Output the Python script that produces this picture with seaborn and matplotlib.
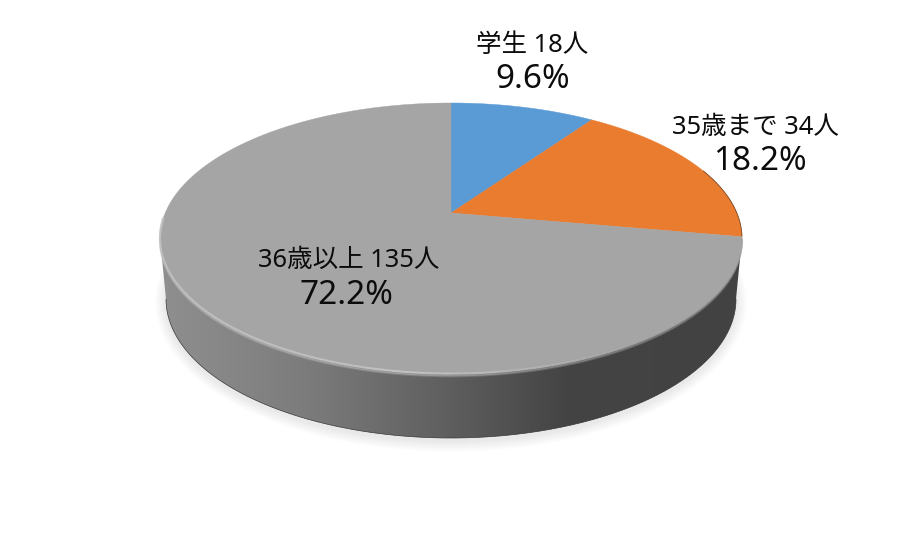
import numpy as np
import seaborn as sns
from matplotlib import pyplot as plt
from matplotlib.collections import LineCollection
from matplotlib.colors import LinearSegmentedColormap, to_rgb
from matplotlib.patches import Polygon

# Survey data
categories = ["学生", "35歳まで", "36歳以上"]
counts = [18, 34, 135]
percent_labels = ["9.6%", "18.2%", "72.2%"]
slice_colors = ["#5B9BD5", "#EA7C30", "#A5A5A5"]

sns.set_theme(style="white")
plt.rcParams["font.family"] = ["Noto Sans", "Noto Sans CJK JP", "DejaVu Sans"]
palette = sns.color_palette(slice_colors)

# Pie geometry in pixels, the top face is a circle seen in perspective
apex_x, apex_y = 451, 213
radius_x, radius_y, persp = 285.8, 130.7, 0.188


def top_face(theta):
    # theta in radians, clockwise from 12 o'clock
    den = 1 + persp * np.cos(theta)
    return (apex_x + radius_x * np.sin(theta) / den,
            apex_y - radius_y * np.cos(theta) / den)


def lower_edge(t, grow=0.0, shift=0.0):
    return (451 + (285 + grow) * np.cos(t),
            299 + shift + (139 + grow) * np.sin(t))


fig, ax = plt.subplots(figsize=(9, 5.5), dpi=100)
fig.subplots_adjust(0, 0, 1, 1)

# Soft shadow under the side wall
t = np.linspace(0, 2 * np.pi, 400)
for grow in range(11, 0, -1):
    sx, sy = lower_edge(t, grow=grow, shift=3)
    ax.fill(sx, sy, color="black", alpha=0.009, lw=0, zorder=1)

# Side wall with horizontal gradient
t_front = np.linspace(0, np.pi, 300)
wx, wy = lower_edge(t_front)
wall_pts = np.column_stack([
    np.r_[742, wx, 160],
    np.r_[238, wy, 238],
])
wall_cmap = LinearSegmentedColormap.from_list(
    "wall",
    [(0.0, "#8f8f8f"), (0.25, "#7c7c7c"), (0.5, "#5e5e5e"), (0.7, "#444444"), (1.0, "#424242")],
)
img = ax.imshow(np.linspace(0, 1, 256)[None, :], cmap=wall_cmap, aspect="auto",
                extent=[160, 742, 445, 230], zorder=2)
clip = Polygon(wall_pts, closed=True, transform=ax.transData)
img.set_clip_path(clip)
ax.plot(wx, wy, color="#3a3a3a", lw=0.5, zorder=3)

# Slices from the counts
edges = np.r_[0, np.cumsum(counts)] / np.sum(counts) * 2 * np.pi
for start, end, color in zip(edges[:-1], edges[1:], palette):
    theta = np.linspace(start, end, 300)
    px, py = top_face(theta)
    ax.fill(np.r_[apex_x, px], np.r_[apex_y, py], color=color, lw=0.3, zorder=4)

# Thin dark edge at the far right of the orange slice
theta = np.radians(np.linspace(70, 100, 80))
px, py = top_face(theta)
ax.plot(px, py, color="#7a4a25", lw=0.6, zorder=5)

# Bevel along the front rim, bright on the left and fading to the right
theta = np.radians(np.linspace(101, 268, 500))
px, py = top_face(theta)
pts = np.column_stack([px, py])
segs = np.stack([pts[:-1], pts[1:]], axis=1)
frac = np.clip((segs[:, 0, 0] - 430) / 200, 0, 1)
bright = np.array(to_rgb("#c2c2c2"))
gray = np.array(to_rgb("#a5a5a5"))
rim_colors = bright[None, :] * (1 - frac[:, None]) + gray[None, :] * frac[:, None]
# blurred lower lip first, then the highlight slightly inside the edge
for off, lw, alpha in [(2.4, 1.4, 0.25), (1.4, 1.4, 0.5)]:
    ax.add_collection(LineCollection(segs + [0, off], colors=rim_colors, linewidths=lw, alpha=alpha, zorder=5))
ax.add_collection(LineCollection(segs - [0, 0.4], colors=rim_colors, linewidths=1.5, zorder=6))

# Labels
label_pos = [(532, 45, 533, 79), (755, 127, 760, 161), (348.5, 260, 346, 296)]
for cat, n, pct, (x1, y1, x2, y2) in zip(categories, counts, percent_labels, label_pos):
    ax.text(x1, y1, f"{cat} {n}人", ha="center", va="center", fontsize=18.4, color="#0c0c0c", zorder=7)
    ax.text(x2, y2, pct, ha="center", va="center", fontsize=24, color="#0c0c0c", zorder=7)

ax.set_xlim(0, 900)
ax.set_ylim(550, 0)
ax.axis("off")
fig.savefig("out.png", dpi=100, facecolor="white")
